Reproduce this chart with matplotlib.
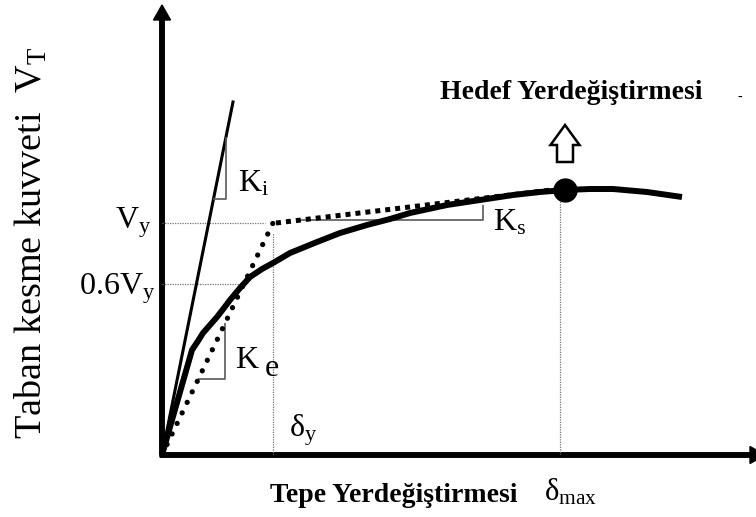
import matplotlib
matplotlib.use("Agg")
import matplotlib.pyplot as plt
from matplotlib.patches import FancyArrow

plt.rcParams['font.family'] = ['Liberation Serif', 'DejaVu Serif']
plt.rcParams['mathtext.fontset'] = 'custom'
plt.rcParams['mathtext.rm'] = 'Liberation Serif'
plt.rcParams['mathtext.it'] = 'Liberation Serif'

# Capacity (pushover) curve: roof displacement vs. base shear, arbitrary units
disp = [0, 30, 36, 41, 48, 55, 62, 68, 78, 88, 100, 111, 128, 155, 178,
        205, 228, 248, 285, 318, 351, 378, 403, 428, 451, 485, 520]
shear = [0, 105, 114, 122, 130, 138, 147, 155, 167, 178, 186, 192, 202, 213,
         222, 230, 236, 242, 250, 255, 260, 263, 265, 266, 266, 263, 258]

# Idealised bilinear curve
delta_y = 111
V_y = 232
delta_max = 398
V_end = 266
V_06 = 171          # level of the 0.6 V_y guide line

# Initial stiffness line K_i
ki_end = (71, 353)

# Target displacement point
target = (403, 265)

fig = plt.figure(figsize=(7.56, 5.17), dpi=100)
ax = fig.add_axes([162 / 756, 62 / 517, 594 / 756, 450 / 517])
ax.set_xlim(0, 594)
ax.set_ylim(0, 450)
ax.axis('off')

guide = dict(color='0.45', lw=0.9, linestyle=(0, (1, 1)))
thin = dict(color='0.35', lw=1.2, solid_capstyle='butt')

# Guide lines
ax.plot([0, 103], [V_y, V_y], **guide)
ax.plot([0, 83], [V_06, V_06], **guide)
ax.plot([delta_y, delta_y], [0, V_y - 10], **guide)
ax.plot([delta_max, delta_max], [0, target[1]], **guide)

# Initial stiffness line and its slope triangle
ax.plot([0, ki_end[0]], [0, ki_end[1]], color='k', lw=2.2)
ki_s = ki_end[1] / ki_end[0]
ax.plot([256 / ki_s, 64, 64], [256, 256, 64 * ki_s], **thin)

# Effective stiffness triangle
ke_s = V_y / delta_y
ax.plot([76 / ke_s, 63, 63], [76, 76, 63 * ke_s], **thin)

# Post-yield stiffness triangle
ks_s = (V_end - V_y) / (delta_max - delta_y)
ax.plot([delta_y + (235 - V_y) / ks_s, 321, 321], [235, 235, 250], **thin)

# Bilinear idealisation
ax.plot([0, delta_y], [0, V_y], color='k', lw=3.8,
        linestyle=(0, (0.01, 2.2)), dash_capstyle='round')
ax.plot([delta_y + 3, delta_max], [V_y, V_end], color='k', lw=3.6,
        linestyle=(0, (1, 1)), dash_capstyle='butt')

# Capacity curve
ax.plot(disp, shear, color='k', lw=4.3, solid_joinstyle='round',
        solid_capstyle='butt')

# Target point
ax.plot(*target, 'o', color='k', markersize=16.5)

# Hollow arrow towards target displacement label
ax.add_patch(FancyArrow(target[0], 293, 0, 37, width=16, head_width=29,
                        head_length=20, length_includes_head=True,
                        facecolor='white', edgecolor='k', lw=1.8))

# Axes with arrow heads
ax.add_patch(FancyArrow(0, 0, 0, 450, width=4.5, head_width=17,
                        head_length=15, length_includes_head=True,
                        color='k', clip_on=False))
ax.add_patch(FancyArrow(-2, 0, 605, 0, width=4.5, head_width=17,
                        head_length=15, length_includes_head=True,
                        color='k', clip_on=False))

lab = dict(fontsize=23, clip_on=False)
ax.text(-11, 232, r'$\mathrm{V_y}$', ha='right', va='center', **lab)
ax.text(-7, 166, r'$\mathrm{0.6V_y}$', ha='right', va='center', **lab)
ax.text(76, 271, r'$\mathrm{K_i}$', ha='left', va='center', **lab)
ax.text(73, 95, 'K', ha='left', va='center', **lab)
ax.text(103, 87, 'e', ha='left', va='center', **lab)
ax.text(331, 232, r'$\mathrm{K_s}$', ha='left', va='center', **lab)
ax.text(127, 25, r'$\mathrm{\delta_y}$', ha='left', va='center', **lab)
ax.text(382, -37, r'$\mathrm{\delta_{max}}$', ha='left', va='center', fontsize=22,
        clip_on=False)

ax.text(108, -47, 'Tepe Yerdeğiştirmesi', fontsize=20, fontweight='bold',
        ha='left', va='baseline', clip_on=False)
ax.text(278, 356, 'Hedef Yerdeğiştirmesi', fontsize=20, fontweight='bold',
        ha='left', va='baseline', clip_on=False)
ax.text(578, 358, '-', fontsize=10, ha='center', va='center', clip_on=False)

ax.text(-131, 212, r'Taban kesme kuvveti  $\mathrm{V_T}$', fontsize=27.5,
        rotation=90, ha='center', va='center', clip_on=False)

fig.savefig('out.png', dpi=100)
